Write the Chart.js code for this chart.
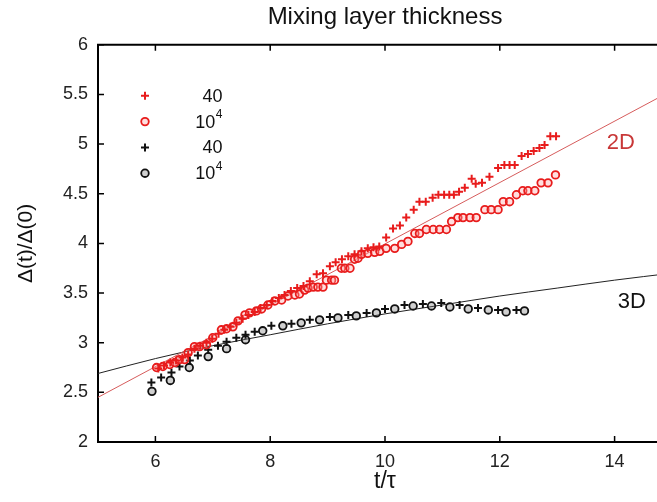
<!DOCTYPE html>
<html><head><meta charset="utf-8">
<script src="https://cdn.jsdelivr.net/npm/chart.js@4.4.1/dist/chart.umd.min.js"></script>
<style>
html,body{margin:0;padding:0;overflow:hidden;background:#fff;width:657px;height:502px;}
canvas{display:block;}
</style></head><body>
<canvas id="c" width="700" height="502"></canvas>
<script>
// ---- text ----
const chartTitle = "Mixing layer thickness";
const xLabel = "t/τ";
const yLabel = "Δ(t)/Δ(0)";
const legendLabels = ["40", "10^4", "40", "10^4"];
const curveLabels = ["2D", "3D"];

// ---- ticks ----
const xTicks = [6, 8, 10, 12, 14];
const yTicks = [2, 2.5, 3, 3.5, 4, 4.5, 5, 5.5, 6];

// ---- 2D, resolution 40 (red +) ----
const red40_t = [6.05,6.15,6.26,6.36,6.47,6.57,6.68,6.78,6.89,6.99,7.10,7.20,7.31,7.41,7.52,7.62,7.73,7.83,7.94,8.04,8.15,8.25,8.36,
  8.47,8.58,8.69,8.81,8.92,9.04,9.14,9.25,9.36,9.47,9.59,9.70,9.80,9.90,10.02,10.14,10.26,10.37,10.50,10.60,10.71,10.83,10.93,
  11.03,11.12,11.20,11.29,11.39,11.51,11.58,11.69,11.82,11.97,12.08,12.17,12.26,12.38,12.49,12.59,12.69,12.78,12.88,12.98];
const red40_y = [2.74,2.77,2.80,2.82,2.85,2.88,2.94,2.97,3.00,3.04,3.09,3.13,3.16,3.20,3.24,3.28,3.31,3.35,3.38,3.42,3.45,3.48,3.52,
  3.55,3.57,3.62,3.69,3.70,3.77,3.81,3.84,3.87,3.89,3.92,3.95,3.96,3.97,4.06,4.15,4.18,4.26,4.34,4.42,4.42,4.46,4.49,
  4.49,4.49,4.49,4.52,4.56,4.65,4.60,4.61,4.67,4.76,4.79,4.79,4.79,4.88,4.90,4.93,4.96,4.99,5.08,5.08];

// ---- 2D, resolution 10^4 (red o) ----
const red1e4_t = [6.02,6.13,6.25,6.34,6.42,6.51,6.57,6.68,6.77,6.89,7.00,7.15,7.24,7.35,7.44,7.56,7.64,7.76,7.85,7.96,
  8.08,8.20,8.31,8.43,8.51,8.60,8.66,8.75,8.83,8.92,8.98,9.07,9.12,9.24,9.30,9.39,9.47,9.53,9.59,9.70,9.82,9.91,
  10.02,10.17,10.29,10.40,10.52,10.60,10.72,10.84,10.95,11.07,11.16,11.27,11.36,11.48,11.59,11.74,11.85,11.97,
  12.06,12.17,12.29,12.40,12.49,12.61,12.72,12.84,12.97];
const red1e4_y = [2.75,2.76,2.78,2.80,2.83,2.83,2.90,2.96,2.96,2.98,3.05,3.13,3.14,3.16,3.22,3.28,3.30,3.32,3.34,3.38,
  3.42,3.43,3.47,3.48,3.49,3.53,3.55,3.56,3.56,3.56,3.63,3.63,3.63,3.75,3.75,3.75,3.84,3.85,3.89,3.90,3.91,3.92,
  3.95,3.95,3.99,4.02,4.10,4.10,4.14,4.14,4.14,4.14,4.22,4.26,4.26,4.26,4.26,4.34,4.34,4.34,
  4.42,4.42,4.49,4.53,4.53,4.53,4.61,4.61,4.69];

// ---- 3D, resolution 40 (black +) ----
const blk40_t = [5.93,6.10,6.28,6.42,6.60,6.74,6.92,7.09,7.24,7.41,7.57,7.73,8.02,8.37,8.69,9.04,9.36,9.68,10.00,10.34,10.66,10.98,11.30,11.62,11.97,12.29];
const blk40_y = [2.60,2.65,2.70,2.76,2.82,2.87,2.93,2.97,3.01,3.05,3.08,3.11,3.17,3.19,3.23,3.26,3.28,3.30,3.34,3.38,3.39,3.40,3.38,3.35,3.33,3.33];

// ---- 3D, resolution 10^4 (black o) ----
const blk1e4_t = [5.94,6.26,6.59,6.92,7.24,7.57,7.87,8.22,8.54,8.86,9.18,9.50,9.85,10.17,10.49,10.81,11.13,11.45,11.80,12.11,12.43];
const blk1e4_y = [2.51,2.62,2.75,2.86,2.94,3.03,3.12,3.17,3.20,3.23,3.25,3.27,3.30,3.34,3.37,3.37,3.36,3.34,3.33,3.31,3.32];

// ---- fit curves ----
const fit2D_t = [5, 15];
const fit2D_y = [2.45, 5.54];
const fit3D_t = [5, 6, 7, 8, 9, 10, 11, 12, 13, 14, 15];
const fit3D_y = [2.69, 2.84, 2.97, 3.08, 3.19, 3.29, 3.38, 3.47, 3.55, 3.63, 3.70];

const pairs = (ts, ys) => ts.map((t, i) => ({x: t, y: ys[i]}));

const FONT = "'Liberation Sans', Arial, Helvetica, sans-serif";
const RED = 'rgb(232,28,28)';
const RED_FIT = 'rgb(214,92,92)';

const framePlugin = {
  id: 'frame',
  beforeDatasetsDraw(chart) {
    const {ctx, chartArea: a, scales: {x, y}} = chart;
    ctx.save();
    ctx.strokeStyle = '#000';
    ctx.lineWidth = 2;
    ctx.beginPath();
    ctx.moveTo(a.left - 1, a.top); ctx.lineTo(a.right + 1, a.top);
    ctx.stroke();
    ctx.lineWidth = 1.5;
    ctx.beginPath();
    x.ticks.forEach(t => {
      const px = x.getPixelForValue(t.value);
      ctx.moveTo(px, a.bottom); ctx.lineTo(px, a.bottom - 6);
      ctx.moveTo(px, a.top); ctx.lineTo(px, a.top + 6);
    });
    y.ticks.forEach(t => {
      const py = y.getPixelForValue(t.value);
      ctx.moveTo(a.left, py); ctx.lineTo(a.left + 6, py);
      ctx.moveTo(a.right, py); ctx.lineTo(a.right - 6, py);
    });
    ctx.stroke();
    ctx.restore();
  }
};

const legendPlugin = {
  id: 'customLegend',
  afterDatasetsDraw(chart) {
    const {ctx, chartArea: a, scales: {x, y}} = chart;
    ctx.save();
    legendLabels.forEach((lab, i) => {
      const ds = chart.data.datasets[i];
      const ry = a.top + 51 + i * 25.8;
      const mx = a.left + 47;
      ctx.strokeStyle = ds.borderColor;
      ctx.fillStyle = ds.backgroundColor;
      ctx.lineWidth = ds.borderWidth;
      Chart.helpers.drawPoint(ctx, {pointStyle: ds.pointStyle, radius: ds.pointRadius, borderWidth: ds.borderWidth, rotation: 0}, mx, ry);
      const rx = a.left + 124.5;
      ctx.fillStyle = '#111';
      ctx.textBaseline = 'middle';
      ctx.textAlign = 'right';
      const parts = lab.split('^');
      if (parts.length === 2) {
        ctx.font = '12px ' + FONT;
        ctx.fillText(parts[1], rx, ry - 7);
        const w = ctx.measureText(parts[1]).width;
        ctx.font = '18px ' + FONT;
        ctx.fillText(parts[0], rx - w - 0.5, ry + 1);
      } else {
        ctx.font = '18px ' + FONT;
        ctx.fillText(lab, rx, ry + 1);
      }
    });
    // curve labels
    ctx.font = '22px ' + FONT;
    ctx.textAlign = 'center';
    ctx.textBaseline = 'middle';
    ctx.fillStyle = 'rgb(200,55,55)';
    ctx.fillText(curveLabels[0], x.getPixelForValue(14.11), y.getPixelForValue(5.01));
    ctx.fillStyle = '#111';
    ctx.fillText(curveLabels[1], x.getPixelForValue(14.30), y.getPixelForValue(3.41));
    ctx.restore();
  }
};

const pointDs = (label, data, style, color, fill) => ({
  label, data, showLine: false, pointStyle: style,
  pointRadius: style === 'cross' ? 4 : 3.8, pointHoverRadius: 4,
  borderColor: color, backgroundColor: fill, borderWidth: style === 'cross' ? 2 : 1.8
});

new Chart(document.getElementById('c'), {
  type: 'scatter',
  data: {
    datasets: [
      pointDs('40', pairs(red40_t, red40_y), 'cross', RED, RED),
      pointDs('10^4', pairs(red1e4_t, red1e4_y), 'circle', RED, 'rgba(255,160,160,0.35)'),
      pointDs('40', pairs(blk40_t, blk40_y), 'cross', '#111', '#111'),
      pointDs('10^4', pairs(blk1e4_t, blk1e4_y), 'circle', '#111', 'rgba(120,120,120,0.35)'),
      {label: '2D fit', data: pairs(fit2D_t, fit2D_y), showLine: true, pointRadius: 0, borderColor: RED_FIT, borderWidth: 1, backgroundColor: RED_FIT},
      {label: '3D fit', data: pairs(fit3D_t, fit3D_y), showLine: true, pointRadius: 0, borderColor: '#222', borderWidth: 1, backgroundColor: '#222', cubicInterpolationMode: 'monotone'}
    ]
  },
  options: {
    responsive: false,
    animation: false,
    devicePixelRatio: 1,
    layout: {padding: {left: 0, right: 28, top: 0, bottom: 0}},
    plugins: {
      legend: {display: false},
      tooltip: {enabled: false},
      title: {
        display: true, text: chartTitle, fullSize: false, color: '#111',
        font: {family: FONT, size: 24, weight: 'normal'},
        padding: {top: 3, bottom: 13}
      }
    },
    scales: {
      x: {
        type: 'linear', min: 5, max: 15,
        afterBuildTicks: s => { s.ticks = xTicks.map(v => ({value: v})); },
        afterFit: s => { s.height = 60; },
        grid: {display: false, drawTicks: false},
        border: {display: true, color: '#000', width: 2},
        ticks: {color: '#222', font: {family: FONT, size: 18}, padding: 9, maxRotation: 0,
                callback: v => String(v)},
        title: {display: true, text: xLabel, color: '#111', font: {family: FONT, size: 23}, padding: {top: 0, bottom: 7}}
      },
      y: {
        type: 'linear', min: 2, max: 6,
        afterBuildTicks: s => { s.ticks = yTicks.map(v => ({value: v})); },
        afterFit: s => { s.width = 98; },
        grid: {display: false, drawTicks: false},
        border: {display: true, color: '#000', width: 2},
        ticks: {color: '#222', font: {family: FONT, size: 18}, padding: 10,
                callback: v => String(v)},
        title: {display: true, text: yLabel, color: '#111', font: {family: FONT, size: 21}, padding: {top: 14, bottom: 0}}
      }
    }
  },
  plugins: [framePlugin, legendPlugin]
});
</script>
</body></html>
